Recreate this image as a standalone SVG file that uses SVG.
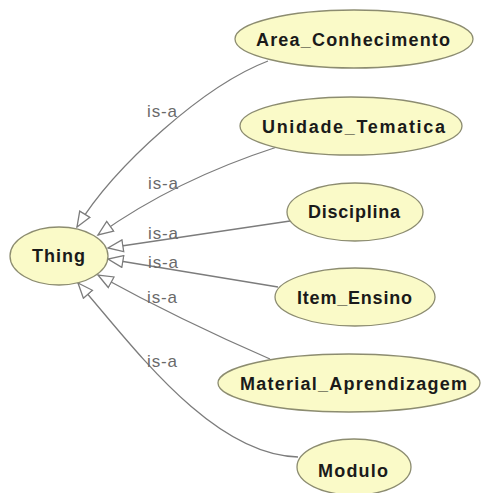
<svg xmlns="http://www.w3.org/2000/svg" width="481" height="493" viewBox="0 0 481 493">
  <style>
    .node ellipse { fill: #fafac8; stroke: #8c8c70; stroke-width: 1.3; }
    .node text { font-family: "Liberation Sans", Arial, sans-serif; font-size: 18px; font-weight: bold; fill: #1a1a1a; }
    .edge { fill: none; stroke: #7c7c7c; stroke-width: 1.3; marker-end: url(#isa); }
    .lbl { font-family: "Liberation Sans", Arial, sans-serif; font-size: 17px; fill: #6a6a6a; }
  </style>
  <defs>
    <marker id="isa" markerUnits="userSpaceOnUse" markerWidth="18" markerHeight="14" refX="16" refY="7" orient="auto">
      <path d="M1,1 L16,7 L1,13 Z" fill="#ffffff" stroke="#7c7c7c" stroke-width="1.3"/>
    </marker>
  </defs>
  <rect width="481" height="493" fill="#ffffff"/>

  <g id="connectors">
    <path class="edge" d="M268,61 C205,85 115,165 77,227"/>
    <path class="edge" d="M277,147 Q175,180 98,235"/>
    <path class="edge" d="M290,221 L108,248"/>
    <path class="edge" d="M278,287 L108,259"/>
    <path class="edge" d="M270,359 Q180,320 98,275"/>
    <path class="edge" d="M298,457 C210,455 130,342 78,283"/>
    <text class="lbl" x="147" y="117" textLength="30" lengthAdjust="spacing">is-a</text>
    <text class="lbl" x="148" y="189" textLength="30" lengthAdjust="spacing">is-a</text>
    <text class="lbl" x="148" y="239" textLength="30" lengthAdjust="spacing">is-a</text>
    <text class="lbl" x="148" y="268" textLength="30" lengthAdjust="spacing">is-a</text>
    <text class="lbl" x="147" y="303" textLength="30" lengthAdjust="spacing">is-a</text>
    <text class="lbl" x="147" y="367" textLength="30" lengthAdjust="spacing">is-a</text>
  </g>

  <g id="area_conhecimento" class="node">
    <ellipse cx="354" cy="39" rx="119" ry="29"/>
    <text x="256" y="46" textLength="194" lengthAdjust="spacing">Area_Conhecimento</text>
  </g>
  <g id="unidade_tematica" class="node">
    <ellipse cx="351" cy="126" rx="111" ry="29"/>
    <text x="262" y="133" textLength="183" lengthAdjust="spacing">Unidade_Tematica</text>
  </g>
  <g id="disciplina" class="node">
    <ellipse cx="355" cy="212" rx="68" ry="29"/>
    <text x="308" y="218" textLength="92" lengthAdjust="spacing">Disciplina</text>
  </g>
  <g id="thing" class="node">
    <ellipse cx="59" cy="256" rx="49" ry="29"/>
    <text x="32" y="262" textLength="53" lengthAdjust="spacing">Thing</text>
  </g>
  <g id="item_ensino" class="node">
    <ellipse cx="355" cy="297" rx="80" ry="29"/>
    <text x="297" y="304" textLength="115" lengthAdjust="spacing">Item_Ensino</text>
  </g>
  <g id="material_aprendizagem" class="node">
    <ellipse cx="349" cy="383" rx="131" ry="29"/>
    <text x="240" y="390" textLength="227" lengthAdjust="spacing">Material_Aprendizagem</text>
  </g>
  <g id="modulo" class="node">
    <ellipse cx="354" cy="467" rx="57" ry="28"/>
    <text x="318" y="477" textLength="70" lengthAdjust="spacing">Modulo</text>
  </g>
</svg>
